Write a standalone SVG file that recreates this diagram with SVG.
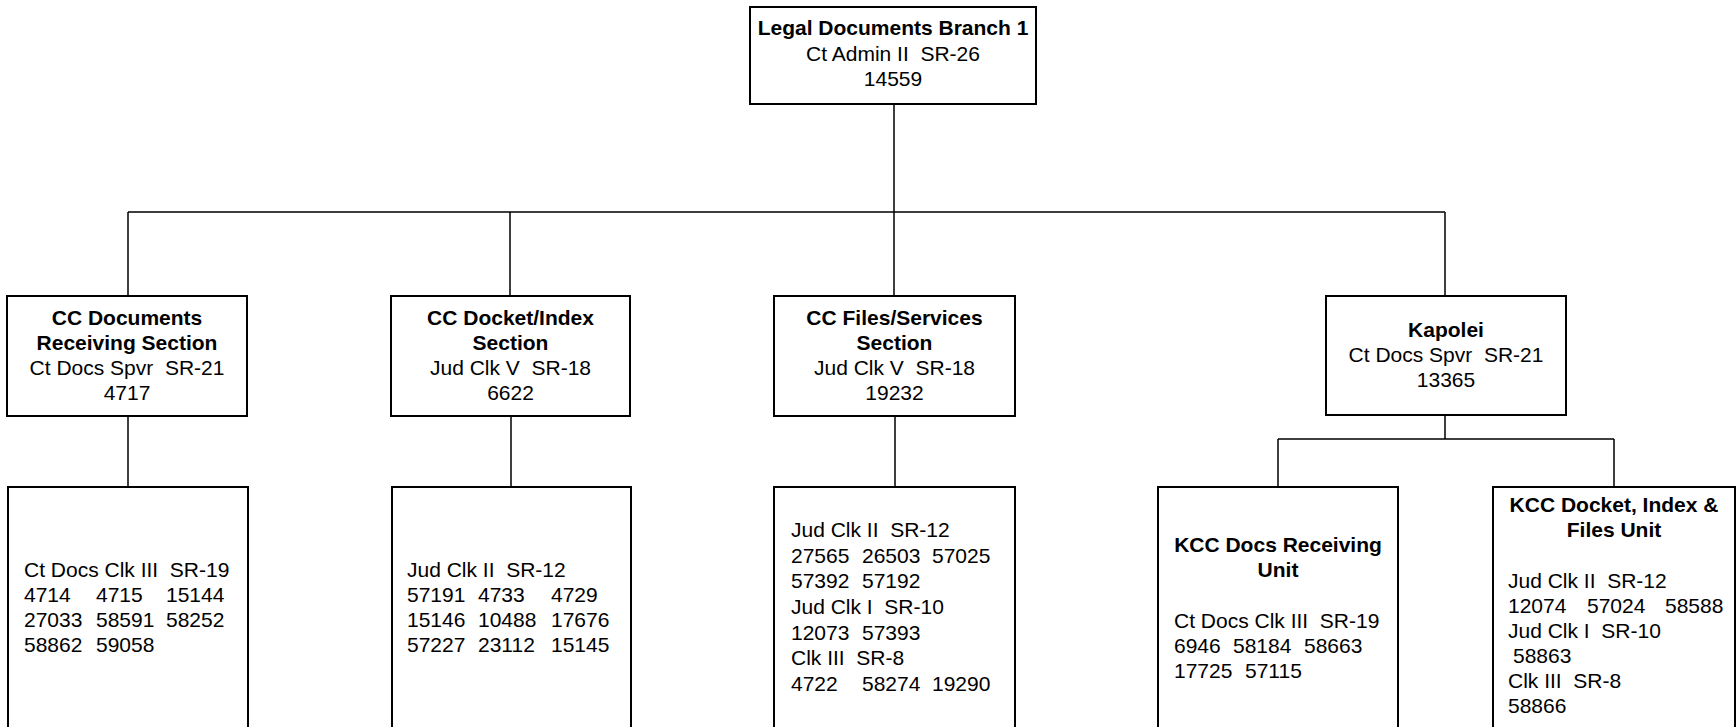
<svg xmlns="http://www.w3.org/2000/svg" width="1736" height="727" viewBox="0 0 1736 727">
<style>
.box{fill:#fff;stroke:#000;stroke-width:2}
.t{font-family:"Liberation Sans",Arial,sans-serif;font-size:21px;fill:#000}
.b{font-weight:bold}
.c{text-anchor:middle}
.conn{fill:none;stroke:#000;stroke-width:1.5}
</style>
<rect width="1736" height="727" fill="#fff"/>
<g id="connectors">
<path class="conn" d="M894 104V212M128 212H1445M128 212V296M510 212V296M894 212V296M1445 212V296"/>
<path class="conn" d="M128 416V487M511 416V487M895 416V487"/>
<path class="conn" d="M1445 415V439M1278 439H1614M1278 439V487M1614 439V487"/>
</g>
<g id="n-legal">
<rect class="box" x="750" y="7" width="286" height="97"/>
<text class="t c b" x="893" y="35">Legal Documents Branch 1</text>
<text class="t c" x="893" y="61" xml:space="preserve">Ct Admin II  SR-26</text>
<text class="t c" x="893" y="86">14559</text>
</g>
<g id="n-ccdocs">
<rect class="box" x="7" y="296" width="240" height="120"/>
<text class="t c b" x="127" y="325">CC Documents</text>
<text class="t c b" x="127" y="350">Receiving Section</text>
<text class="t c" x="127" y="375" xml:space="preserve">Ct Docs Spvr  SR-21</text>
<text class="t c" x="127" y="400">4717</text>
</g>
<g id="n-ccdocket">
<rect class="box" x="391" y="296" width="239" height="120"/>
<text class="t c b" x="510.5" y="325">CC Docket/Index</text>
<text class="t c b" x="510.5" y="350">Section</text>
<text class="t c" x="510.5" y="375" xml:space="preserve">Jud Clk V  SR-18</text>
<text class="t c" x="510.5" y="400">6622</text>
</g>
<g id="n-ccfiles">
<rect class="box" x="774" y="296" width="241" height="120"/>
<text class="t c b" x="894.5" y="325">CC Files/Services</text>
<text class="t c b" x="894.5" y="350">Section</text>
<text class="t c" x="894.5" y="375" xml:space="preserve">Jud Clk V  SR-18</text>
<text class="t c" x="894.5" y="400">19232</text>
</g>
<g id="n-kapolei">
<rect class="box" x="1326" y="296" width="240" height="119"/>
<text class="t c b" x="1446" y="337">Kapolei</text>
<text class="t c" x="1446" y="362" xml:space="preserve">Ct Docs Spvr  SR-21</text>
<text class="t c" x="1446" y="387">13365</text>
</g>
<g id="n-ccdocs-staff">
<rect class="box" x="8" y="487" width="240" height="260"/>
<text class="t" x="24" y="577" xml:space="preserve">Ct Docs Clk III  SR-19</text>
<text class="t" y="602"><tspan x="24">4714</tspan><tspan x="96">4715</tspan><tspan x="166">15144</tspan></text>
<text class="t" y="627"><tspan x="24">27033</tspan><tspan x="96">58591</tspan><tspan x="166">58252</tspan></text>
<text class="t" y="652"><tspan x="24">58862</tspan><tspan x="96">59058</tspan></text>
</g>
<g id="n-ccdocket-staff">
<rect class="box" x="392" y="487" width="239" height="260"/>
<text class="t" x="407" y="577" xml:space="preserve">Jud Clk II  SR-12</text>
<text class="t" y="602"><tspan x="407">57191</tspan><tspan x="478">4733</tspan><tspan x="551">4729</tspan></text>
<text class="t" y="627"><tspan x="407">15146</tspan><tspan x="478">10488</tspan><tspan x="551">17676</tspan></text>
<text class="t" y="652"><tspan x="407">57227</tspan><tspan x="478">23112</tspan><tspan x="551">15145</tspan></text>
</g>
<g id="n-ccfiles-staff">
<rect class="box" x="774" y="487" width="241" height="260"/>
<text class="t" x="791" y="537" xml:space="preserve">Jud Clk II  SR-12</text>
<text class="t" y="563"><tspan x="791">27565</tspan><tspan x="862">26503</tspan><tspan x="932">57025</tspan></text>
<text class="t" y="588"><tspan x="791">57392</tspan><tspan x="862">57192</tspan></text>
<text class="t" x="791" y="614" xml:space="preserve">Jud Clk I  SR-10</text>
<text class="t" y="640"><tspan x="791">12073</tspan><tspan x="862">57393</tspan></text>
<text class="t" x="791" y="665" xml:space="preserve">Clk III  SR-8</text>
<text class="t" y="691"><tspan x="791">4722</tspan><tspan x="862">58274</tspan><tspan x="932">19290</tspan></text>
</g>
<g id="n-kcc-receiving">
<rect class="box" x="1158" y="487" width="240" height="260"/>
<text class="t c b" x="1278" y="552">KCC Docs Receiving</text>
<text class="t c b" x="1278" y="577">Unit</text>
<text class="t" x="1174" y="628" xml:space="preserve">Ct Docs Clk III  SR-19</text>
<text class="t" y="653"><tspan x="1174">6946</tspan><tspan x="1233">58184</tspan><tspan x="1304">58663</tspan></text>
<text class="t" y="678"><tspan x="1174">17725</tspan><tspan x="1245">57115</tspan></text>
</g>
<g id="n-kcc-docket">
<rect class="box" x="1493" y="487" width="242" height="260"/>
<text class="t c b" x="1614" y="512">KCC Docket, Index &amp;</text>
<text class="t c b" x="1614" y="537">Files Unit</text>
<text class="t" x="1508" y="588" xml:space="preserve">Jud Clk II  SR-12</text>
<text class="t" y="613"><tspan x="1508">12074</tspan><tspan x="1587">57024</tspan><tspan x="1665">58588</tspan></text>
<text class="t" x="1508" y="638" xml:space="preserve">Jud Clk I  SR-10</text>
<text class="t" x="1513" y="663">58863</text>
<text class="t" x="1508" y="688" xml:space="preserve">Clk III  SR-8</text>
<text class="t" x="1508" y="713">58866</text>
</g>
</svg>
